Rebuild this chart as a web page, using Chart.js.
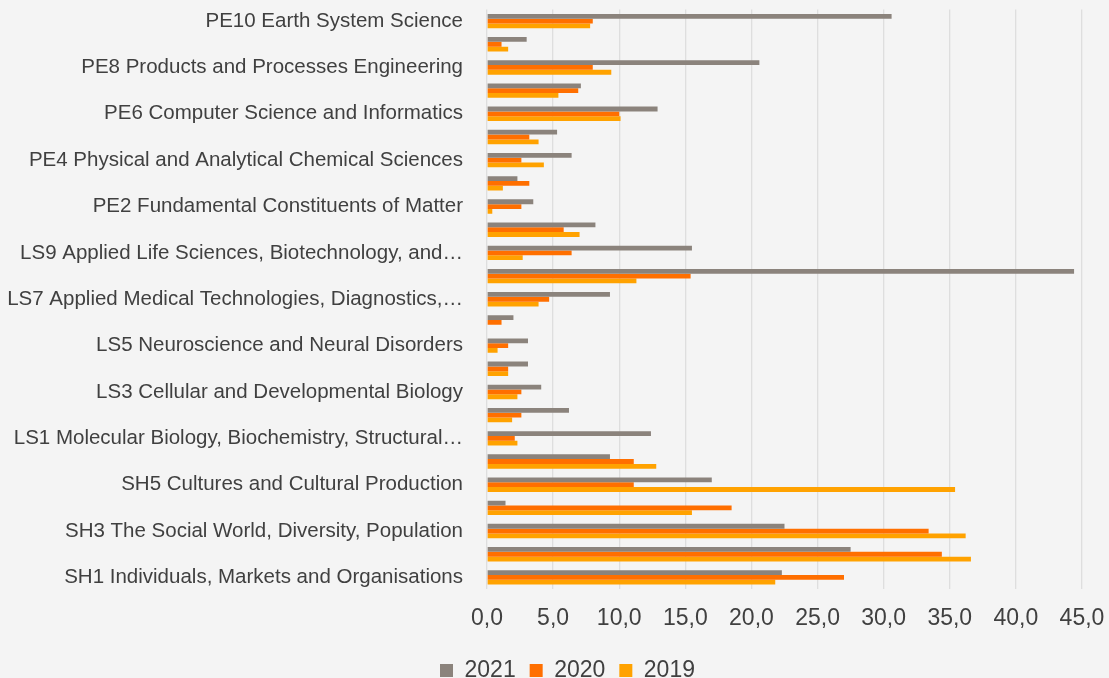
<!DOCTYPE html>
<html>
<head>
<meta charset="utf-8">
<script src="https://cdn.jsdelivr.net/npm/chart.js@4/dist/chart.umd.min.js"></script>
<style>
  html, body { margin: 0; padding: 0; background: #f4f4f4; }
  #wrap { width: 1109px; height: 678px; position: relative; }
</style>
</head>
<body>
<div id="wrap"><canvas id="c" width="1109" height="678"></canvas></div>
<script>
const categories = [
  "SH1 Individuals, Markets and Organisations",
  "SH2 Institutions, Values, Environment and Space",
  "SH3 The Social World, Diversity, Population",
  "SH4 The Human Mind and Its Complexity",
  "SH5 Cultures and Cultural Production",
  "SH6 The Study of the Human Past",
  "LS1 Molecular Biology, Biochemistry, Structural…",
  "LS2 Integrative Biology",
  "LS3 Cellular and Developmental Biology",
  "LS4 Physiology in Health, Disease and Ageing",
  "LS5 Neuroscience and Neural Disorders",
  "LS6 Immunity, Infection and Immunotherapy",
  "LS7 Applied Medical Technologies, Diagnostics,…",
  "LS8 Environmental Biology, Ecology and Evolution",
  "LS9 Applied Life Sciences, Biotechnology, and…",
  "PE1 Mathematics",
  "PE2 Fundamental Constituents of Matter",
  "PE3 Condensed Matter Physics",
  "PE4 Physical and Analytical Chemical Sciences",
  "PE5 Synthetic Chemistry and Materials",
  "PE6 Computer Science and Informatics",
  "PE7 Systems and Communication Engineering",
  "PE8 Products and Processes Engineering",
  "PE9 Universe Sciences",
  "PE10 Earth System Science"
];
const series2021 = [22.3, 27.5, 22.5, 1.4, 17.0, 9.3, 12.4, 6.2, 4.1, 3.1, 3.1, 2.0, 9.3, 44.4, 15.5, 8.2, 3.5, 2.3, 6.4, 5.3, 12.9, 7.1, 20.6, 3.0, 30.6];
const series2020 = [27.0, 34.4, 33.4, 18.5, 11.1, 11.1, 2.1, 2.6, 2.6, 1.6, 1.6, 1.1, 4.7, 15.4, 6.4, 5.8, 2.6, 3.2, 2.6, 3.2, 10.0, 6.9, 8.0, 1.1, 8.0];
const series2019 = [21.8, 36.6, 36.2, 15.5, 35.4, 12.8, 2.3, 1.9, 2.3, 1.6, 0.8, 0.0, 3.9, 11.3, 2.7, 7.0, 0.4, 1.2, 4.3, 3.9, 10.1, 5.4, 9.4, 1.6, 7.8];
const seriesNames = ["2021", "2020", "2019"];
const xTicks = [0, 5, 10, 15, 20, 25, 30, 35, 40, 45];

const textColor = "#404040";
const font = "'Liberation Sans', Arial, sans-serif";

new Chart(document.getElementById("c"), {
  type: "bar",
  data: {
    labels: categories,
    datasets: [
      { label: seriesNames[0], data: series2021, backgroundColor: "#8b837c" },
      { label: seriesNames[1], data: series2020, backgroundColor: "#ff6f00" },
      { label: seriesNames[2], data: series2019, backgroundColor: "#ffa200" }
    ]
  },
  options: {
    indexAxis: "y",
    responsive: false,
    animation: false,
    layout: { padding: { top: 9.5, right: -26, left: 0, bottom: -14 } },
    datasets: { bar: { categoryPercentage: 0.62, barPercentage: 1.0, borderWidth: 0 } },
    scales: {
      x: {
        min: 0, max: 45,
        afterBuildTicks: (s) => { s.ticks = xTicks.map(v => ({ value: v })); },
        ticks: {
          color: textColor,
          font: { family: font, size: 23 },
          padding: 16,
          maxRotation: 0,
          callback: (v) => Number(v).toFixed(1).replace(".", ",")
        },
        grid: { color: "#dedede", lineWidth: 1.3, drawTicks: false },
        border: { display: false },
        afterFit: (s) => { s.height = 56; s.paddingLeft = 0; s.paddingRight = 27; }
      },
      y: {
        reverse: true,
        ticks: {
          autoSkip: false,
          color: textColor,
          font: { family: font, size: 20.5 },
          padding: 24,
          callback: function (v, i) { return i % 2 === 0 ? this.getLabelForValue(v) : ""; }
        },
        grid: { display: false, drawTicks: false },
        border: { display: false },
        afterFit: (s) => { s.width = 487; s.paddingTop = 0; s.paddingBottom = 0; }
      }
    },
    plugins: {
      legend: {
        position: "bottom",
        labels: {
          color: textColor,
          font: { family: font, size: 23 },
          boxWidth: 13, boxHeight: 13,
          padding: 14
        }
      },
      tooltip: { enabled: false }
    }
  }
});
</script>
</body>
</html>
